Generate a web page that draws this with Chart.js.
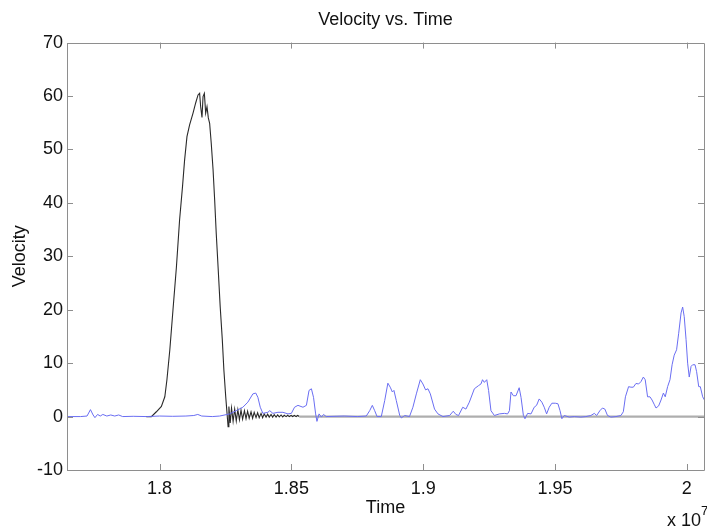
<!DOCTYPE html>
<html>
<head>
<meta charset="utf-8">
<title>Velocity vs. Time</title>
<script src="https://cdn.jsdelivr.net/npm/chart.js@4.4.1/dist/chart.umd.min.js"></script>
<style>
    html, body { margin: 0; padding: 0; background: #fff; }
    #wrap { width: 707px; height: 529px; }
</style>
</head>
<body>
<div id="wrap"><canvas id="velocityChart" width="707" height="529"></canvas></div>
<script>
// Time values are in units of 1e7 (the axis carries the "x 10^7" multiplier)
const blueTime = [
    1.7649, 1.7700, 1.7725, 1.7738, 1.7748, 1.7755, 1.7765, 1.7775, 1.7785, 1.7800,
    1.7815, 1.7830, 1.7845, 1.7860, 1.7900, 1.7950, 1.8000, 1.8050, 1.8100, 1.8130,
    1.8145, 1.8160, 1.8200, 1.8228, 1.8266, 1.8291, 1.8316, 1.8335, 1.8354, 1.8365,
    1.8373, 1.8382, 1.8392, 1.8411, 1.8418, 1.8430, 1.8449, 1.8468, 1.8487, 1.8500,
    1.8512, 1.8525, 1.8544, 1.8557, 1.8567, 1.8576, 1.8584, 1.8592, 1.8597, 1.8605,
    1.8614, 1.8622, 1.8632, 1.8700, 1.8750, 1.8784, 1.8797, 1.8807, 1.8816, 1.8825,
    1.8841, 1.8854, 1.8866, 1.8875, 1.8883, 1.8889, 1.8898, 1.8911, 1.8917, 1.8930,
    1.8948, 1.8961, 1.8974, 1.8989, 1.8999, 1.9009, 1.9018, 1.9027, 1.9043, 1.9056,
    1.9075, 1.9100, 1.9114, 1.9124, 1.9134, 1.9150, 1.9162, 1.9175, 1.9194, 1.9210,
    1.9219, 1.9225, 1.9232, 1.9241, 1.9248, 1.9257, 1.9270, 1.9289, 1.9308, 1.9320,
    1.9327, 1.9333, 1.9342, 1.9352, 1.9364, 1.9371, 1.9380, 1.9386, 1.9396, 1.9409,
    1.9421, 1.9430, 1.9440, 1.9450, 1.9459, 1.9468, 1.9478, 1.9488, 1.9501, 1.9511,
    1.9519, 1.9526, 1.9535, 1.9554, 1.9573, 1.9598, 1.9617, 1.9636, 1.9649, 1.9658,
    1.9670, 1.9680, 1.9689, 1.9699, 1.9712, 1.9731, 1.9750, 1.9759, 1.9767, 1.9779,
    1.9788, 1.9797, 1.9807, 1.9817, 1.9826, 1.9835, 1.9842, 1.9851, 1.9860, 1.9868,
    1.9877, 1.9883, 1.9893, 1.9902, 1.9911, 1.9918, 1.9927, 1.9936, 1.9944, 1.9952,
    1.9961, 1.9969, 1.9978, 1.9984, 1.9990, 1.9997, 2.0003, 2.0009, 2.0016, 2.0022,
    2.0031, 2.0037, 2.0045, 2.0051, 2.0060, 2.0070
];
const blueVelocity = [
    0, 0, 0.1, 1.3, 0.3, -0.2, 0.4, 0.1, 0.4, 0.1,
    0.3, 0.1, 0.3, 0, 0.05, 0, 0.1, 0.05, 0.1, 0.2,
    0.4, 0.1, 0, 0.1, 0.5, 1.1, 1.75, 2.7, 4.25, 4.4,
    3.6, 1.75, 0.6, 0.8, 1.1, 0.6, 0.8, 0.8, 0.5, 0.6,
    1.75, 2.1, 1.75, 2.1, 4.9, 5.2, 3.6, 0.5, -0.9, 0.5,
    -0.1, 0.4, 0, 0.1, 0, 0.1, 1.1, 2.1, 1.1, 0,
    0, 3, 6.25, 5.5, 4.6, 4.9, 3, 0.2, -0.25, 0.2,
    0, 1.75, 4.25, 6.9, 6.1, 5, 5.2, 4.25, 1.4, 0.5,
    0, 0.2, 1.0, 0.4, 0.2, 1.75, 1.4, 2.7, 5.2, 5.8,
    6.1, 6.9, 6.4, 6.9, 4.9, 1.1, 0.2, 0.5, 0.6, 0.5,
    1.1, 4.6, 3.9, 3.9, 5.4, 3.6, 0.2, -0.4, 0.6, 0.5,
    1.75, 2.1, 3.3, 2.7, 1.75, 0.5, 1.75, 2.5, 2.5, 2.4,
    1.1, -0.4, 0.2, -0.1, 0, -0.1, 0, 0.2, 0.6, 0.2,
    1.1, 1.6, 1.4, 0.2, -0.1, 0, 0.2, 0.9, 3.7, 5.6,
    5.5, 5.5, 6.2, 6.1, 6.55, 7.4, 6.9, 3.7, 3.7, 3.1,
    2.2, 1.6, 2.0, 3.1, 4.4, 3.7, 5.6, 6.9, 9.7, 11.5,
    12.5, 15.6, 19.4, 20.5, 18.7, 14.4, 10, 7.4, 9.4, 9.7,
    9.7, 8.4, 5.6, 5.6, 3.7, 2.8
];

const blackTime = [
    1.7950, 1.7969, 1.7988, 1.8007, 1.8020, 1.8028, 1.8039, 1.8051, 1.8064, 1.8076,
    1.8087, 1.8095, 1.8104, 1.8114, 1.8127, 1.8137, 1.8146, 1.8152, 1.8156, 1.8161,
    1.8165, 1.8170, 1.8175, 1.8180, 1.8185, 1.8190, 1.8196, 1.8203, 1.8209, 1.8215,
    1.8222, 1.8230, 1.8238, 1.8244, 1.8251, 1.8256, 1.8260, 1.8263, 1.8268, 1.8273,
    1.8279, 1.8285, 1.8291, 1.8297, 1.8303, 1.8309, 1.8315, 1.8322, 1.8328, 1.8334,
    1.8340, 1.8347, 1.8353, 1.8359, 1.8366, 1.8372, 1.8378, 1.8385, 1.8391, 1.8397,
    1.8404, 1.8410, 1.8416, 1.8423, 1.8429, 1.8435, 1.8442, 1.8448, 1.8454, 1.8461,
    1.8467, 1.8473, 1.8480, 1.8486, 1.8492, 1.8499, 1.8505, 1.8511, 1.8518, 1.8524,
    1.8530, 2.0070
];
const blackVelocity = [
    0, 0, 0.9, 1.9, 3.7, 6.9, 12.5, 20, 28, 36.8,
    43, 48, 52.4, 54.6, 56.8, 58.7, 60.2, 60.5, 58, 56,
    59.9, 60.5, 56.8, 58, 55.9, 54.9, 51.2, 46.2, 40.6, 34.3,
    28, 20.6, 14.4, 8.7, 3.7, 0.6, -1.9, 1.9, -1.2, 1.6,
    -0.9, 1.4, -0.8, 1.3, -0.6, 1.2, -0.5, 1.1, -0.4, 1.0,
    -0.3, 0.9, -0.3, 0.8, -0.2, 0.7, -0.2, 0.6, -0.2, 0.5,
    -0.1, 0.45, -0.1, 0.4, -0.1, 0.35, -0.1, 0.3, -0.05, 0.3,
    -0.05, 0.25, 0, 0.25, 0, 0.2, 0, 0.2, 0, 0.2,
    0, 0
];

const xTicks = [1.8, 1.85, 1.9, 1.95, 2];
const xMin = 1.7649;
const xMax = 2.0065;
const yMin = -10;
const yMax = 70;

const FONT = 'Liberation Sans, Arial, Helvetica, sans-serif';
const AXIS_COLOR = '#8e8e8e';
const TICK_LEN = 6;

function toPoints(xs, ys) {
    return xs.map((x, i) => ({ x: x, y: ys[i] }));
}

// box around the plot, inward tick marks on all four sides, and the exponent label
const boxTicks = {
    id: 'boxTicks',
    afterDatasetsDraw(chart) {
        const { ctx, chartArea: a, scales } = chart;
        ctx.save();
        ctx.strokeStyle = AXIS_COLOR;
        ctx.lineWidth = 1;
        ctx.beginPath();
        ctx.rect(Math.round(a.left) + 0.5, Math.round(a.top) + 0.5,
            Math.round(a.right - a.left), Math.round(a.bottom - a.top));
        scales.x.ticks.forEach(t => {
            const px = Math.round(scales.x.getPixelForValue(t.value)) + 0.5;
            ctx.moveTo(px, a.bottom);
            ctx.lineTo(px, a.bottom - TICK_LEN);
            ctx.moveTo(px, a.top);
            ctx.lineTo(px, a.top + TICK_LEN);
        });
        scales.y.ticks.forEach(t => {
            const py = Math.round(scales.y.getPixelForValue(t.value)) + 0.5;
            ctx.moveTo(a.left, py);
            ctx.lineTo(a.left + TICK_LEN, py);
            ctx.moveTo(a.right, py);
            ctx.lineTo(a.right - TICK_LEN, py);
        });
        ctx.stroke();
        ctx.restore();
    },
    afterDraw(chart) {
        const { ctx, chartArea: a } = chart;
        ctx.save();
        ctx.fillStyle = '#111';
        ctx.textBaseline = 'alphabetic';
        ctx.textAlign = 'right';
        ctx.font = '18px ' + FONT;
        ctx.fillText('x 10', a.right - 3, 526);
        ctx.textAlign = 'left';
        ctx.font = '13px ' + FONT;
        ctx.fillText('7', a.right - 3, 515);
        ctx.restore();
    }
};

const ctx = document.getElementById('velocityChart').getContext('2d');
new Chart(ctx, {
    type: 'line',
    data: {
        datasets: [
            {
                label: 'blue',
                data: toPoints(blueTime, blueVelocity),
                borderColor: '#6a6ef2',
                borderWidth: 1,
                pointRadius: 0,
                tension: 0,
                order: 0
            },
            {
                label: 'black',
                data: toPoints(blackTime, blackVelocity),
                borderColor: '#2a2a2a',
                borderWidth: 1.1,
                pointRadius: 0,
                tension: 0,
                order: 1,
                segment: {
                    borderColor: c => c.p0.parsed.x >= 1.853 ? 'rgba(160,160,160,0.85)' : undefined,
                    borderWidth: c => c.p0.parsed.x >= 1.853 ? 2.2 : undefined
                }
            }
        ]
    },
    options: {
        responsive: false,
        animation: false,
        events: [],
        layout: { padding: { left: 0, right: 3, top: 0, bottom: 0 } },
        plugins: {
            legend: { display: false },
            tooltip: { enabled: false },
            title: {
                display: true,
                fullSize: false,
                text: 'Velocity vs. Time',
                color: '#111',
                font: { family: FONT, size: 18, weight: 'normal' },
                padding: { top: 9, bottom: 12 }
            }
        },
        scales: {
            x: {
                type: 'linear',
                min: xMin,
                max: xMax,
                afterBuildTicks: scale => {
                    scale.ticks = xTicks.map(v => ({ value: v }));
                },
                afterFit: scale => { scale.height = 59; },
                grid: { display: false, drawTicks: false },
                border: { display: false },
                ticks: {
                    color: '#111',
                    padding: 8,
                    maxRotation: 0,
                    autoSkip: false,
                    font: { family: FONT, size: 18 },
                    callback: v => String(v)
                },
                title: {
                    display: true,
                    text: 'Time',
                    color: '#111',
                    font: { family: FONT, size: 18 },
                    padding: { top: 0, bottom: 10 }
                }
            },
            y: {
                min: yMin,
                max: yMax,
                afterFit: scale => { scale.width = 67; },
                grid: { display: false, drawTicks: false },
                border: { display: false },
                ticks: {
                    stepSize: 10,
                    color: '#111',
                    padding: 4,
                    font: { family: FONT, size: 18 }
                },
                title: {
                    display: true,
                    text: 'Velocity',
                    color: '#111',
                    font: { family: FONT, size: 18 },
                    padding: { top: 9, bottom: 0 }
                }
            }
        }
    },
    plugins: [boxTicks]
});
</script>
</body>
</html>
